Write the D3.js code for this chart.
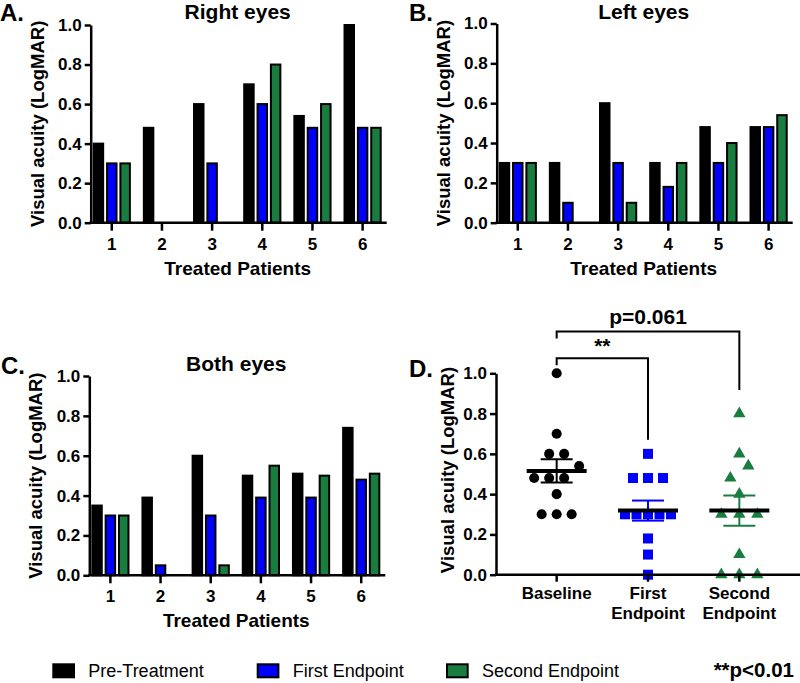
<!DOCTYPE html>
<html>
<head>
<meta charset="utf-8">
<script src="https://cdn.jsdelivr.net/npm/d3@7"></script>
<style>
  body { margin: 0; background: #fff; }
  svg { display: block; font-family: "Liberation Sans", Arial, sans-serif; }
  .axis path, .axis line { stroke: #000; stroke-width: 2.5; }
  .axis text { font-size: 17px; font-weight: bold; fill: #000; }
</style>
</head>
<body>
<div id="chart"></div>
<script>
// values (LogMAR)
const patients = ["1", "2", "3", "4", "5", "6"];
const seriesNames = ["Pre-Treatment", "First Endpoint", "Second Endpoint"];
const seriesColors = ["#000000", "#0000ff", "#1a7d40"];
const yTicks = [0, 0.2, 0.4, 0.6, 0.8, 1.0];

const rightPre = [0.40, 0.48, 0.60, 0.70, 0.54, 1.00];
const rightFirst = [0.30, 0.00, 0.30, 0.60, 0.48, 0.48];
const rightSecond = [0.30, 0.00, 0.00, 0.80, 0.60, 0.48];

const leftPre = [0.30, 0.30, 0.60, 0.30, 0.48, 0.48];
const leftFirst = [0.30, 0.10, 0.30, 0.18, 0.30, 0.48];
const leftSecond = [0.30, 0.00, 0.10, 0.30, 0.40, 0.54];

const bothPre = [0.35, 0.39, 0.60, 0.50, 0.51, 0.74];
const bothFirst = [0.30, 0.05, 0.30, 0.39, 0.39, 0.48];
const bothSecond = [0.30, 0.00, 0.05, 0.55, 0.50, 0.51];

// panel D, every eye
const dGroups = ["Baseline", "First Endpoint", "Second Endpoint"];
const dGroupLines = [["Baseline"], ["First", "Endpoint"], ["Second", "Endpoint"]];
const dBaseline = [0.40, 0.48, 0.60, 0.70, 0.54, 1.00, 0.30, 0.30, 0.60, 0.30, 0.48, 0.48];
const dFirst = [0.30, 0.00, 0.30, 0.60, 0.48, 0.48, 0.30, 0.10, 0.30, 0.18, 0.30, 0.48];
const dSecond = [0.30, 0.00, 0.00, 0.80, 0.60, 0.48, 0.30, 0.00, 0.10, 0.30, 0.40, 0.54];

// significance brackets: top of bracket and where the long leg stops
const brackets = [
  { from: "Baseline", to: "First Endpoint", top: 1.075, end: 0.67, label: "**" },
  { from: "Baseline", to: "Second Endpoint", top: 1.207, end: 0.917, label: "p=0.061" }
];

const width = 800, height = 683;
const svg = d3.select("#chart").append("svg")
  .attr("width", width)
  .attr("height", height);

const fmt = d3.format(".1f");

//layout of the three bar panels
const barPanels = [
  { letter: "A.", lx: 0, ly: 21, title: "Right eyes", ty: 18.5, x0: 90.7, y0: 222.7, y1: 25, data: [rightPre, rightFirst, rightSecond] },
  { letter: "B.", lx: 409, ly: 21, title: "Left eyes", ty: 18.5, x0: 496.7, y0: 222.7, y1: 23.5, data: [leftPre, leftFirst, leftSecond] },
  { letter: "C.", lx: 1, ly: 374, title: "Both eyes", ty: 370.5, x0: 89.3, y0: 575.3, y1: 376, data: [bothPre, bothFirst, bothSecond] }
];

function yLabel(g, x, y) {
  g.append("text")
    .attr("transform", `translate(${x},${y}) rotate(-90)`)
    .attr("text-anchor", "middle")
    .style("font-size", "18.5px").style("font-weight", "bold")
    .text("Visual acuity (LogMAR)");
}

function barPanel(p) {
  const g = svg.append("g");
  const y = d3.scaleLinear().domain([0, 1]).range([p.y0, p.y1]);
  const x = d3.scaleBand().domain(patients).range([p.x0 - 4, p.x0 + 297]);
  const xs = d3.scaleBand().domain([0, 1, 2]).range([-19.1, 19.1]).paddingInner(0.14);

  const bars = [];
  p.data.forEach((vals, s) => vals.forEach((v, i) => {
    if (v > 0) bars.push({ s: s, patient: patients[i], v: v });
  }));

  g.selectAll("rect.bar")
    .data(bars)
    .join("rect")
    .attr("class", "bar")
    .attr("x", d => x(d.patient) + x.bandwidth() / 2 + xs(d.s) + 1)
    .attr("width", xs.bandwidth() - 2)
    .attr("y", d => y(d.v))
    .attr("height", d => p.y0 - y(d.v))
    .attr("fill", d => seriesColors[d.s])
    .attr("stroke", "#000")
    .attr("stroke-width", 2);

  g.append("g").attr("class", "axis")
    .attr("transform", `translate(${p.x0},0)`)
    .call(d3.axisLeft(y).tickValues(yTicks).tickFormat(fmt).tickSize(6).tickSizeOuter(0).tickPadding(3));

  const gx = g.append("g").attr("class", "axis")
    .attr("transform", `translate(0,${p.y0})`)
    .call(d3.axisBottom(x).tickSize(8).tickPadding(7));
  gx.select(".domain").remove();
  gx.append("line").attr("x1", p.x0 - 1.2).attr("x2", p.x0 + 296).attr("stroke", "#000").attr("stroke-width", 2.5);

  g.append("text")
    .attr("x", p.x0 + 147).attr("y", p.ty)
    .attr("text-anchor", "middle")
    .style("font-size", "21px").style("font-weight", "bold")
    .text(p.title);

  g.append("text")
    .attr("x", p.x0 + 147).attr("y", p.y0 + 52)
    .attr("text-anchor", "middle")
    .style("font-size", "19px").style("font-weight", "bold")
    .text("Treated Patients");

  yLabel(g, p.x0 - 47, (p.y0 + p.y1) / 2);

  g.append("text")
    .attr("x", p.lx).attr("y", p.ly)
    .style("font-size", "24px").style("font-weight", "bold")
    .text(p.letter);
}

barPanels.forEach(barPanel);

// ---- panel D: scatter with mean and SEM ----
// points with close values go in one row, spread evenly around the column centre
function swarm(values, spacing, maxHalf) {
  const pts = values.map(v => ({ v: v })).sort((a, b) => a.v - b.v);
  const rows = [];
  pts.forEach(d => {
    const row = rows[rows.length - 1];
    if (row && d.v - row[0].v < 0.07) row.push(d);
    else rows.push([d]);
  });
  rows.forEach(row => {
    const n = row.length;
    const s = n > 1 ? Math.min(spacing, 2 * maxHalf / (n - 1)) : 0;
    row.forEach((d, k) => d.dx = (k - (n - 1) / 2) * s);
  });
  return pts;
}

(function scatterPanel() {
  const x0 = 496, y0 = 574.7, y1 = 373.3;
  const g = svg.append("g");
  const y = d3.scaleLinear().domain([0, 1]).range([y0, y1]);
  const x = d3.scaleBand().domain(dGroups).range([511, 785]);
  const cx = k => x(k) + x.bandwidth() / 2;

  const sets = [dBaseline, dFirst, dSecond];
  const shapes = [d3.symbolCircle, d3.symbolSquare, d3.symbolTriangle];
  const sizes = [80, 100, 66];
  const spacings = [15, 15, 18];

  sets.forEach((vals, s) => {
    const pts = swarm(vals, spacings[s], 23);
    g.append("g").selectAll("path")
      .data(pts)
      .join("path")
      .attr("transform", d => `translate(${cx(dGroups[s]) + d.dx},${y(d.v)})`)
      .attr("d", d3.symbol().type(shapes[s]).size(sizes[s]))
      .attr("fill", seriesColors[s]);
  });

  sets.forEach((vals, s) => {
    const m = d3.mean(vals);
    const sem = d3.deviation(vals) / Math.sqrt(vals.length);
    const c = cx(dGroups[s]);
    const eb = g.append("g").attr("stroke", seriesColors[s]).attr("stroke-width", 2);
    eb.append("line").attr("x1", c).attr("x2", c).attr("y1", y(m - sem)).attr("y2", y(m + sem));
    eb.append("line").attr("x1", c - 16).attr("x2", c + 16).attr("y1", y(m - sem)).attr("y2", y(m - sem));
    eb.append("line").attr("x1", c - 16).attr("x2", c + 16).attr("y1", y(m + sem)).attr("y2", y(m + sem));
    g.append("line")
      .attr("x1", c - 30).attr("x2", c + 30)
      .attr("y1", y(m)).attr("y2", y(m))
      .attr("stroke", "#000").attr("stroke-width", 4);
  });

  g.append("g").attr("class", "axis")
    .attr("transform", `translate(${x0},0)`)
    .call(d3.axisLeft(y).tickValues(yTicks).tickFormat(fmt).tickSize(6).tickSizeOuter(0).tickPadding(3));

  const gx = g.append("g").attr("class", "axis")
    .attr("transform", `translate(0,${y0})`)
    .call(d3.axisBottom(x).tickSize(7).tickFormat(""));
  gx.select(".domain").remove();
  gx.append("line").attr("x1", x0 - 1.2).attr("x2", width).attr("stroke", "#000").attr("stroke-width", 2.5);

  dGroupLines.forEach((lines, k) => {
    g.append("text")
      .attr("x", cx(dGroups[k])).attr("y", y0 + 24)
      .attr("text-anchor", "middle")
      .style("font-size", "17px").style("font-weight", "bold")
      .selectAll("tspan")
      .data(lines)
      .join("tspan")
      .attr("x", cx(dGroups[k]))
      .attr("dy", (d, i) => i === 0 ? 0 : 20)
      .text(d => d);
  });

  brackets.forEach(b => {
    const xa = cx(b.from), xb = cx(b.to), yt = y(b.top);
    g.append("path")
      .attr("d", `M${xa},${yt + 7}V${yt}H${xb}V${y(b.end)}`)
      .attr("fill", "none").attr("stroke", "#000").attr("stroke-width", 2);
    g.append("text")
      .attr("x", (xa + xb) / 2).attr("y", yt - (b.label === "**" ? 5 : 8))
      .attr("text-anchor", "middle")
      .style("font-size", "21px").style("font-weight", "bold")
      .text(b.label);
  });

  yLabel(g, x0 - 42, (y0 + y1) / 2 - 4);

  g.append("text")
    .attr("x", 409).attr("y", 377)
    .style("font-size", "24px").style("font-weight", "bold")
    .text("D.");
})();

// ---- legend ----
const legendX = [52.3, 256.7, 446];
const legend = svg.append("g").attr("transform", "translate(0,663.3)");
seriesNames.forEach((name, i) => {
  legend.append("rect")
    .attr("x", legendX[i] + 1).attr("y", 1)
    .attr("width", 20.7).attr("height", 13)
    .attr("fill", seriesColors[i]).attr("stroke", "#000").attr("stroke-width", 2);
  legend.append("text")
    .attr("x", legendX[i] + 36).attr("y", 13.7)
    .style("font-size", "18px")
    .text(name);
});
legend.append("text")
  .attr("x", 794).attr("y", 13.7)
  .attr("text-anchor", "end")
  .style("font-size", "20.5px").style("font-weight", "bold")
  .text("**p<0.01");
</script>
</body>
</html>
